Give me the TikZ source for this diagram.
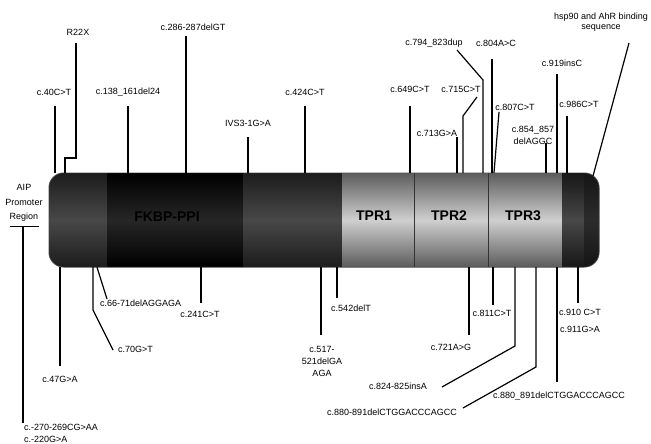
\documentclass[tikz,border=0pt]{standalone}
\usepackage{fontspec}
\setmainfont{Liberation Sans}
\usetikzlibrary{positioning,calc}

\definecolor{darkedge}{HTML}{1C1C1C}
\definecolor{darkmid}{HTML}{484848}
\definecolor{fkbpmid}{HTML}{262626}
\definecolor{tpredge}{HTML}{5C5C5C}
\definecolor{tprmid}{HTML}{CFCFCF}
\definecolor{tailedge}{HTML}{141414}
\definecolor{tailmid}{HTML}{2C2C2C}

\begin{document}
\begin{tikzpicture}[
    x=1pt, y=-1pt,
    mut/.style={font=\fontsize{9}{11}\selectfont, inner sep=0pt, align=center},
    domlabel/.style={font=\bfseries\fontsize{14}{16}\selectfont, inner sep=0pt},
    pin/.style={draw=black, line width=1.2pt},
    segshade/.style n args={2}{top color=#1, bottom color=#1, middle color=#2}
]
\useasboundingbox (0,0) rectangle (651,444);

% protein bar
\node[minimum width=550pt, minimum height=94pt, inner sep=0pt] (bar) at (324,220) {};
\begin{scope}
\clip[rounded corners=15pt] (bar.south west) rectangle (bar.north east);
\shade[segshade={darkedge}{darkmid}] (49,173) rectangle (107,267);
\shade[segshade={black}{fkbpmid}] (107,173) rectangle (243,267);
\shade[segshade={darkedge}{darkmid}] (243,173) rectangle (342,267);
\shade[segshade={tpredge}{tprmid}] (342,173) rectangle (562,267);
\shade[segshade={darkedge!80!black}{darkmid}] (562,173) rectangle (584,267);
\shade[segshade={tailedge}{tailmid}] (584,173) rectangle (599,267);
\end{scope}
\draw[gray!40!black, line width=0.8pt] (414,173) -- (414,267);
\draw[gray!40!black, line width=0.8pt] (488,173) -- (488,267);
\draw[black!70, line width=0.6pt, rounded corners=15pt] (bar.south west) rectangle (bar.north east);

\node[domlabel] (fkbp) at (167,217) {FKBP-PPI};
\node[domlabel] (tpr1) at (374,216) {TPR1};
\node[domlabel] (tpr2) at (449,216) {TPR2};
\node[domlabel] (tpr3) at (523,216) {TPR3};

% mutations above the bar
\coordinate (t40) at (55,106);
\node[mut] (l40) at (54,92) {c.40C>T};
\draw[pin] (t40) -- (t40 |- bar.north);

\coordinate (t22) at (76,43);
\node[mut] (l22) at (78,32) {R22X};
\draw[pin] (t22) |- (65,158) -- (65,158 |- bar.north);

\coordinate (t138) at (128,106);
\node[mut] (l138) at (128,92) {c.138\_161del24};
\draw[pin] (t138) -- (t138 |- bar.north);

\coordinate (t286) at (186,36);
\node[mut] (l286) at (193,27) {c.286-287delGT};
\draw[pin] (t286) -- (t286 |- bar.north);

\coordinate (tivs) at (248,137);
\node[mut] (livs) at (248,123) {IVS3-1G>A};
\draw[pin] (tivs) -- (tivs |- bar.north);

\coordinate (t424) at (305,106);
\node[mut] (l424) at (305,92) {c.424C>T};
\draw[pin] (t424) -- (t424 |- bar.north);

\coordinate (t649) at (410,106);
\node[mut] (l649) at (410,89) {c.649C>T};
\draw[pin] (t649) -- (t649 |- bar.north);

\coordinate (t715) at (477,97);
\node[mut] (l715) at (461,89) {c.715C>T};
\draw[pin] (t715) -- (463,116) -- (463,116 |- bar.north);

\coordinate (t713) at (457,137);
\node[mut] (l713) at (437,133) {c.713G>A};
\draw[pin] (t713) -- (t713 |- bar.north);

\coordinate (t794) at (457,50);
\node[mut] (l794) at (434,43) {c.794\_823dup};
\draw[pin] (t794) -- (483,80) -- (483,80 |- bar.north);

\coordinate (t804) at (492,59);
\node[mut] (l804) at (496,43) {c.804A>C};
\draw[pin] (t804) -- (t804 |- bar.north);

\coordinate (t807) at (499,112);
\node[mut] (l807) at (515,107) {c.807C>T};
\draw[pin] (t807) -- (494,112 |- bar.north);

\coordinate (t854) at (546,143);
\node[mut, font=\fontsize{9}{12}\selectfont] (l854) at (533,135) {c.854\_857\\delAGGC};
\draw[pin] (t854) -- (t854 |- bar.north);

\coordinate (t919) at (557,74);
\node[mut] (l919) at (562,63) {c.919insC};
\draw[pin] (t919) -- (t919 |- bar.north);

\coordinate (t986) at (567,116);
\node[mut] (l986) at (579,104) {c.986C>T};
\draw[pin] (t986) -- (t986 |- bar.north);

\coordinate (thsp) at (629,43);
\node[mut, font=\fontsize{9}{10.5}\selectfont] (lhsp) at (601,22) {hsp90 and AhR binding\\sequence};
\draw[pin] (thsp) -- (593,176);

% promoter region
\node[mut, font=\fontsize{9}{14.5}\selectfont] (laip) at (24,203) {AIP\\Promoter\\Region};
\coordinate (baip) at (23,423);
\draw[pin, line width=1pt] (10,226) -- (39,226);
\draw[pin] (23,226) -- (baip);
\node[mut, align=left, anchor=west, font=\fontsize{9}{12}\selectfont] (l270) at (24,433) {c.-270-269CG>AA\\c.-220G>A};

% mutations below the bar
\coordinate (b47) at (60,366);
\node[mut] (l47) at (60,379) {c.47G>A};
\draw[pin] (b47 |- bar.south) -- (b47);

\coordinate (b66) at (107,299);
\node[mut, anchor=west] (l66) at (100,303) {c.66-71delAGGAGA};
\draw[pin] (97,0 |- bar.south) -- (b66);

\coordinate (b70) at (113,350);
\node[mut, anchor=west] (l70) at (118,349) {c.70G>T};
\draw[pin] (93,0 |- bar.south) -- (93,310) -- (b70);

\coordinate (b241) at (201,303);
\node[mut] (l241) at (200,314) {c.241C>T};
\draw[pin] (b241 |- bar.south) -- (b241);

\coordinate (b517) at (321,335);
\node[mut, font=\fontsize{9}{12}\selectfont] (l517) at (322,361) {c.517-\\521delGA\\AGA};
\draw[pin] (b517 |- bar.south) -- (b517);

\coordinate (b542) at (337,298);
\node[mut] (l542) at (351,308) {c.542delT};
\draw[pin] (b542 |- bar.south) -- (b542);

\coordinate (b721) at (469,335);
\node[mut] (l721) at (451,347) {c.721A>G};
\draw[pin] (b721 |- bar.south) -- (b721);

\coordinate (b811) at (493,305);
\node[mut] (l811) at (492,313) {c.811C>T};
\draw[pin] (b811 |- bar.south) -- (b811);

\coordinate (b824) at (442,387);
\node[mut] (l824) at (398,386) {c.824-825insA};
\draw[pin] (515,0 |- bar.south) -- (515,346) -- (b824);

\coordinate (b880a) at (463,408);
\node[mut] (l880a) at (392,412) {c.880-891delCTGGACCCAGCC};
\draw[pin] (536,0 |- bar.south) -- (536,367) -- (b880a);

\coordinate (b880b) at (557,382);
\node[mut] (l880b) at (559,396) {c.880\_891delCTGGACCCAGCC};
\draw[pin] (b880b |- bar.south) -- (b880b);

\coordinate (b910) at (578,303);
\node[mut] (l910) at (580,312) {c.910 C>T};
\node[mut] (l911) at (580,329) {c.911G>A};
\draw[pin, line width=2.2pt] (b910 |- bar.south) -- (b910);

\end{tikzpicture}
\end{document}
